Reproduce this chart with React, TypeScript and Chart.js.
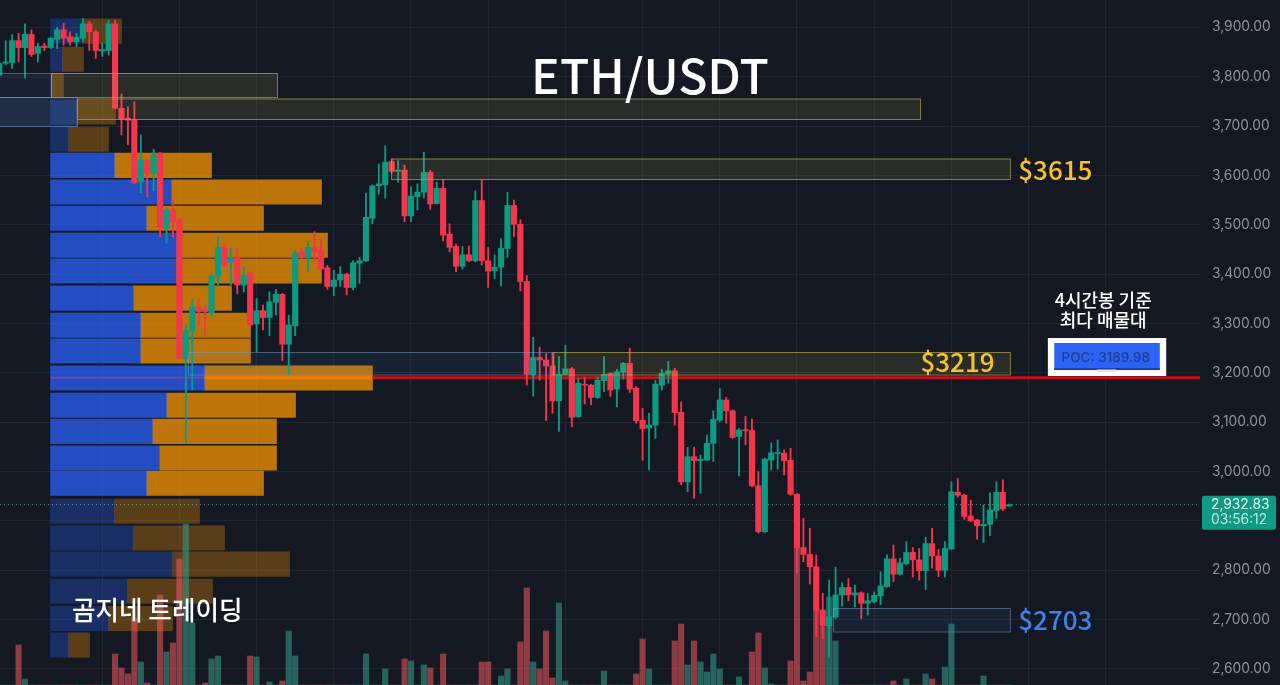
import React, { useEffect, useRef } from 'react';
import { Chart, registerables } from 'chart.js';

Chart.register(...registerables);

const FIRST_BAR = -4;
const LAST_PRICE = 2932.83;
const POC_PRICE = 3189.98;

const yTicks = [3900, 3800, 3700, 3600, 3500, 3400, 3300, 3200, 3100, 3000, 2900, 2800, 2700, 2600];

const opens = [
  3803, 3827, 3829, 3873, 3859, 3886, 3847, 3862, 3859, 3876,
  3895, 3881, 3871, 3878, 3907, 3891, 3852, 3853, 3907, 3736,
  3716, 3712, 3587, 3630, 3603, 3645, 3493, 3529, 3510, 3229,
  3285, 3333, 3329, 3322, 3396, 3456, 3424, 3432, 3378, 3402,
  3299, 3326, 3312, 3343, 3359, 3258, 3295, 3445, 3434, 3454,
  3449, 3413, 3375, 3388, 3400, 3373, 3422, 3427, 3513, 3579,
  3581, 3628, 3608, 3611, 3518, 3557, 3566, 3606, 3543, 3574,
  3481, 3456, 3416, 3439, 3427, 3549, 3427, 3407, 3414, 3452,
  3539, 3501, 3385, 3196, 3231, 3226, 3214, 3143, 3197, 3208,
  3111, 3177, 3175, 3150, 3184, 3199, 3167, 3201, 3219, 3169,
  3104, 3088, 3094, 3175, 3198, 3204, 3120, 2979, 3030, 3022,
  3023, 3057, 3104, 3145, 3123, 3071, 3085, 3083, 2971, 2878,
  3023, 3037, 3037, 3023, 2954, 2846, 2832, 2807, 2719, 2687,
  2705, 2750, 2765, 2750, 2754, 2733, 2736, 2748, 2767, 2823,
  2792, 2813, 2836, 2821, 2799, 2854, 2829, 2800, 2843, 2958,
  2952, 2910, 2902, 2890, 2893, 2921, 2958, 2930,
];
const highs = [
  3830, 3873, 3885, 3888, 3907, 3895, 3868, 3868, 3880, 3900,
  3908, 3891, 3888, 3918, 3912, 3895, 3868, 3915, 3914, 3765,
  3739, 3749, 3682, 3633, 3653, 3646, 3533, 3550, 3513, 3300,
  3349, 3348, 3334, 3402, 3476, 3462, 3452, 3452, 3415, 3405,
  3351, 3337, 3364, 3369, 3361, 3317, 3447, 3452, 3466, 3486,
  3470, 3418, 3408, 3415, 3402, 3427, 3434, 3564, 3581, 3623,
  3660, 3633, 3630, 3621, 3577, 3583, 3647, 3610, 3587, 3592,
  3502, 3461, 3456, 3457, 3569, 3591, 3454, 3439, 3472, 3566,
  3550, 3510, 3397, 3272, 3252, 3239, 3241, 3233, 3256, 3211,
  3189, 3191, 3177, 3192, 3233, 3200, 3207, 3221, 3250, 3172,
  3128, 3118, 3185, 3207, 3223, 3209, 3141, 3049, 3049, 3033,
  3074, 3123, 3168, 3150, 3125, 3087, 3112, 3106, 3000, 3027,
  3058, 3064, 3044, 3047, 2956, 2905, 2885, 2831, 2753, 2780,
  2806, 2775, 2783, 2770, 2756, 2753, 2756, 2797, 2831, 2851,
  2824, 2858, 2846, 2844, 2867, 2885, 2842, 2858, 2979, 2986,
  2954, 2942, 2903, 2932, 2957, 2979, 2983, 2934,
];
const lows = [
  3799, 3824, 3817, 3830, 3797, 3841, 3830, 3853, 3857, 3857,
  3864, 3864, 3861, 3871, 3853, 3837, 3841, 3844, 3735, 3682,
  3662, 3583, 3565, 3557, 3569, 3475, 3463, 3475, 3228, 3057,
  3165, 3297, 3277, 3314, 3378, 3415, 3378, 3360, 3364, 3293,
  3243, 3287, 3275, 3317, 3225, 3196, 3275, 3432, 3405, 3429,
  3408, 3369, 3356, 3375, 3358, 3368, 3381, 3425, 3502, 3562,
  3554, 3604, 3586, 3506, 3506, 3530, 3554, 3531, 3542, 3467,
  3445, 3405, 3410, 3425, 3425, 3418, 3373, 3391, 3376, 3434,
  3476, 3366, 3175, 3153, 3185, 3103, 3118, 3081, 3196, 3091,
  3110, 3137, 3135, 3148, 3162, 3152, 3131, 3187, 3160, 3098,
  3023, 3003, 3067, 3165, 3179, 3094, 2973, 2959, 2946, 2956,
  3023, 3020, 3101, 3098, 3067, 2991, 3054, 2969, 2875, 2876,
  3003, 3005, 2993, 2952, 2794, 2817, 2772, 2665, 2662, 2625,
  2702, 2727, 2738, 2726, 2702, 2709, 2734, 2730, 2765, 2777,
  2790, 2811, 2786, 2780, 2761, 2804, 2787, 2786, 2842, 2948,
  2903, 2898, 2863, 2856, 2870, 2905, 2921, 2929,
];
const closes = [
  3827, 3830, 3873, 3859, 3886, 3845, 3861, 3859, 3878, 3895,
  3878, 3871, 3880, 3907, 3891, 3853, 3855, 3907, 3736, 3714,
  3712, 3585, 3631, 3604, 3641, 3494, 3529, 3506, 3230, 3285,
  3334, 3324, 3324, 3396, 3454, 3418, 3432, 3378, 3398, 3297,
  3326, 3312, 3344, 3359, 3258, 3297, 3443, 3435, 3454, 3445,
  3410, 3375, 3388, 3400, 3373, 3423, 3427, 3515, 3579, 3583,
  3627, 3608, 3611, 3518, 3558, 3566, 3606, 3542, 3574, 3479,
  3454, 3416, 3439, 3427, 3549, 3427, 3406, 3414, 3452, 3539,
  3501, 3385, 3197, 3231, 3226, 3214, 3143, 3197, 3208, 3110,
  3179, 3175, 3150, 3185, 3197, 3165, 3202, 3219, 3167, 3103,
  3087, 3094, 3177, 3199, 3204, 3119, 2979, 3030, 3022, 3025,
  3057, 3106, 3145, 3123, 3069, 3084, 3083, 2971, 2878, 3025,
  3038, 3039, 3022, 2954, 2846, 2832, 2807, 2719, 2687, 2706,
  2750, 2765, 2750, 2754, 2733, 2738, 2749, 2768, 2823, 2792,
  2815, 2836, 2821, 2799, 2854, 2829, 2800, 2844, 2959, 2952,
  2909, 2900, 2890, 2893, 2922, 2958, 2924, 2932.83,
];
const volumes = [
  0, 0, 0, 40, 6, 0, 0, 0, 0, 0,
  0, 0, 0, 0, 0, 0, 0, 0, 31, 17,
  11, 67, 23, 2, 0, 90, 33, 42, 126, 161,
  62, 0, 2, 26, 29, 0, 0, 0, 0, 29,
  28, 0, 3, 0, 4, 54, 29, 0, 0, 0,
  0, 0, 0, 0, 0, 0, 0, 31, 0, 0,
  16, 0, 0, 26, 24, 0, 20, 17, 0, 31,
  0, 0, 0, 0, 0, 23, 23, 0, 9, 16,
  0, 43, 97, 23, 16, 54, 7, 82, 4, 0,
  0, 0, 0, 0, 14, 0, 0, 0, 0, 11,
  46, 16, 0, 0, 0, 44, 61, 20, 44, 23,
  13, 31, 16, 0, 0, 8, 0, 33, 52, 17,
  1, 0, 0, 24, 145, 4, 13, 75, 58, 88,
  44, 0, 0, 0, 0, 0, 0, 0, 0, 4,
  0, 6, 0, 0, 11, 6, 0, 18, 61, 0,
  0, 0, 0, 9, 0, 0, 0, 0,
];

// volume profile rows, top of each row in price
const profilePrices = [
  3917, 3860, 3807, 3753, 3698, 3645, 3591, 3538, 3483, 3431, 3376, 3321,
  3269, 3214, 3159, 3106, 3052, 3001, 2944, 2890, 2837, 2782, 2727, 2673,
];
const profileBuy = [
  32, 12, 1, 26, 18, 64, 121, 96, 129, 126, 83, 90,
  90, 154, 116, 102, 109, 96, 64, 83, 122, 77, 58, 18,
];
const profileSell = [
  39, 21, 12, 39, 40, 97, 150, 117, 148, 145, 98, 110,
  110, 168, 129, 124, 117, 117, 85, 91, 117, 85, 64, 21,
];
const profileBright = [
  false, false, false, false, false, true, true, true, true, true, true, true,
  true, true, true, true, true, true, false, false, false, false, false, false,
];

const zoneStart = [4.04, -4.2, 8.08, -4.2, 56.9, 82.1, 25.3, 125.6];
const zoneEnd = [39.17, 4.04, 139.13, 8.08, 153.1, 153.1, 82.1, 153.1];
const zoneHigh = [3807.5, 3807.5, 3755.8, 3758.8, 3634.2, 3242.1, 3242.1, 2723.4];
const zoneLow = [3758.8, 3758.8, 3714.3, 3700, 3592.7, 3196.5, 3196.5, 2675.8];
const zoneYellow = [true, false, true, false, true, true, false, false];
const zoneStrong = [false, false, false, true, false, false, false, false];

const GREEN = '#0b9b83';
const RED = '#f4364c';
const GREEN_VOL = 'rgba(55, 160, 140, 0.55)';
const RED_VOL = 'rgba(242, 90, 95, 0.55)';
const FONT_KR = '"Noto Sans CJK KR", "Noto Sans", sans-serif';

const bars = opens.map((_, i) => i + FIRST_BAR);
const candleColors = opens.map((o, i) => (closes[i] >= o ? GREEN : RED));
const volumeColors = opens.map((o, i) => (closes[i] >= o ? GREEN_VOL : RED_VOL));
const rowMid = (p: number) => p - 24.7;

const chartLabels = [
  { text: 'ETH/USDT', x: 97.15, y: 3801, font: `500 48px ${FONT_KR}`, color: '#ffffff', align: 'center' },
  { text: '$3615', x: 154.4, y: 3611, font: `500 26px ${FONT_KR}`, color: '#f5c326', align: 'left' },
  { text: '$3219', x: 139.2, y: 3222, font: `500 26px ${FONT_KR}`, color: '#f5c326', align: 'left' },
  { text: '$2703', x: 154.4, y: 2699, font: `500 26px ${FONT_KR}`, color: '#3f80ea', align: 'left' },
  { text: '곰지네 트레이딩', x: 7.3, y: 2719, font: `500 25.6px ${FONT_KR}`, color: '#ffffff', align: 'left' },
  { text: '4시간봉 기준', x: 167.6, y: 3347, font: `500 18px ${FONT_KR}`, color: '#ffffff', align: 'center' },
  { text: '최다 매물대', x: 167.6, y: 3307, font: `500 18px ${FONT_KR}`, color: '#ffffff', align: 'center' },
];

const overlayPlugin = {
  id: 'overlay',
  afterDatasetsDraw(chart: any) {
    const { ctx } = chart;
    const xs = chart.scales.x;
    const ys = chart.scales.y;
    const box = (x0: number, x1: number, hi: number, lo: number, color: string) => {
      ctx.fillStyle = color;
      const left = xs.getPixelForValue(x0);
      const top = ys.getPixelForValue(hi);
      ctx.fillRect(left, top, xs.getPixelForValue(x1) - left, ys.getPixelForValue(lo) - top);
    };

    // zones
    zoneStart.forEach((start, i) => {
      const x0 = xs.getPixelForValue(start);
      const x1 = xs.getPixelForValue(zoneEnd[i]);
      const y0 = ys.getPixelForValue(zoneHigh[i]);
      const y1 = ys.getPixelForValue(zoneLow[i]);
      if (zoneYellow[i]) {
        ctx.fillStyle = 'rgba(200, 190, 90, 0.12)';
        ctx.strokeStyle = 'rgba(175, 170, 70, 0.7)';
      } else {
        ctx.fillStyle = zoneStrong[i] ? 'rgba(80, 130, 200, 0.2)' : 'rgba(80, 130, 200, 0.1)';
        ctx.strokeStyle = zoneStrong[i] ? 'rgba(110, 160, 225, 0.6)' : 'rgba(130, 170, 215, 0.45)';
      }
      ctx.lineWidth = 1;
      ctx.fillRect(x0, y0, x1 - x0, y1 - y0);
      ctx.strokeRect(x0 + 0.5, y0 + 0.5, x1 - x0, y1 - y0);
    });

    // POC box
    box(159, 177.4, 3270.5, 3193.5, '#ffffff');
    box(160, 176.4, 3260.4, 3205.6, '#2b63f6');
    box(160, 176.4, 3209.6, 3205.6, '#1d3f9e');
    box(166.6, 169.6, 3206.7, 3201.7, '#dfe6f5');
    ctx.font = '500 13.5px Inter, sans-serif';
    ctx.fillStyle = '#1f3f88';
    ctx.textAlign = 'center';
    ctx.textBaseline = 'middle';
    ctx.fillText(`POC: ${POC_PRICE}`, xs.getPixelForValue(168), ys.getPixelForValue(3230));

    chartLabels.forEach((l) => {
      ctx.font = l.font;
      ctx.fillStyle = l.color;
      ctx.textAlign = l.align;
      ctx.textBaseline = 'middle';
      ctx.fillText(l.text, xs.getPixelForValue(l.x), ys.getPixelForValue(l.y));
    });

    // last price tag on the axis
    const right = chart.chartArea.right;
    const tagY = ys.getPixelForValue(LAST_PRICE);
    ctx.fillStyle = '#0f9b82';
    ctx.beginPath();
    ctx.roundRect(right + 2, tagY - 9, 74, 34, 2);
    ctx.fill();
    ctx.font = '13.8px Inter, sans-serif';
    ctx.textAlign = 'left';
    ctx.fillStyle = '#e6f5f1';
    ctx.fillText(LAST_PRICE.toLocaleString('en-US', { minimumFractionDigits: 2 }), right + 11, tagY);
    ctx.fillStyle = '#c3e6de';
    ctx.fillText('03:56:12', right + 11, tagY + 15);
  },
};

const App: React.FC = () => {
  const canvasRef = useRef<HTMLCanvasElement>(null);

  useEffect(() => {
    if (!canvasRef.current) return;
    const gridColor = '#22252f';

    const chart = new Chart(canvasRef.current, {
      type: 'bar',
      data: {
        datasets: [
          // candle bodies
          {
            data: bars.map((x, i) => ({ x, y: [opens[i], closes[i]] })),
            backgroundColor: candleColors,
            barThickness: 5.5,
            grouped: false,
            order: 1,
          },
          // wicks
          {
            data: bars.map((x, i) => ({ x, y: [lows[i], highs[i]] })),
            backgroundColor: candleColors,
            barThickness: 1.2,
            grouped: false,
            order: 2,
          },
          // last price
          {
            type: 'line',
            data: [{ x: -3.9, y: LAST_PRICE }, { x: 182.7, y: LAST_PRICE }],
            borderColor: 'rgba(150, 205, 190, 0.75)',
            borderWidth: 1,
            borderDash: [1, 3],
            pointRadius: 0,
            order: 3,
          },
          // POC line over the profile and out to the axis
          {
            type: 'line',
            data: [{ x: 54, y: POC_PRICE }, { x: 182.7, y: POC_PRICE }],
            borderColor: '#c41019',
            borderWidth: 3,
            pointRadius: 0,
            order: 4,
          },
          {
            type: 'line',
            data: [{ x: 27.9, y: POC_PRICE }, { x: 54, y: POC_PRICE }],
            borderColor: '#f47a00',
            borderWidth: 3,
            pointRadius: 0,
            order: 4,
          },
          {
            type: 'line',
            data: [{ x: 3.97, y: POC_PRICE }, { x: 27.9, y: POC_PRICE }],
            borderColor: '#6a4bb4',
            borderWidth: 2,
            pointRadius: 0,
            order: 4,
          },
          // volume
          {
            data: bars.map((x, i) => ({ x, y: volumes[i] })),
            yAxisID: 'yVol',
            backgroundColor: volumeColors,
            barThickness: 5.5,
            grouped: false,
            order: 5,
          },
          // volume profile
          {
            indexAxis: 'y',
            xAxisID: 'xVp',
            data: profilePrices.map((p, i) => ({ x: [0, profileBuy[i]], y: rowMid(p) })),
            backgroundColor: profileBright.map((b) => (b ? 'rgba(41, 98, 255, 0.72)' : 'rgba(41, 98, 255, 0.3)')),
            barThickness: 24.4,
            grouped: false,
            order: 6,
          },
          {
            indexAxis: 'y',
            xAxisID: 'xVp',
            data: profilePrices.map((p, i) => ({ x: [profileBuy[i], profileBuy[i] + profileSell[i]], y: rowMid(p) })),
            backgroundColor: profileBright.map((b) => (b ? 'rgba(255, 152, 0, 0.72)' : 'rgba(255, 152, 0, 0.3)')),
            barThickness: 24.4,
            grouped: false,
            order: 6,
          },
        ] as any,
      },
      options: {
        responsive: false,
        animation: false,
        events: [],
        layout: { padding: 0, autoPadding: false },
        plugins: {
          legend: { display: false },
          tooltip: { enabled: false },
        },
        scales: {
          x: {
            type: 'linear',
            position: 'bottom',
            min: -3.886,
            max: 182.65,
            offset: false,
            grid: { color: gridColor, offset: false, drawTicks: false },
            border: { display: false },
            ticks: { display: false, stepSize: 12 },
            afterBuildTicks: (scale: any) => {
              scale.ticks = scale.ticks.filter((t: any) => t.value % 12 === 0);
            },
          },
          xVp: {
            type: 'linear',
            display: false,
            min: -50.5,
            max: 1149.5,
            offset: false,
            grid: { offset: false },
          },
          y: {
            type: 'linear',
            position: 'right',
            min: 2567.4,
            max: 3955.4,
            offset: false,
            grid: { color: gridColor, offset: false, drawTicks: false },
            border: { display: false },
            ticks: {
              stepSize: 100,
              padding: 12,
              color: '#8f929c',
              autoSkip: false,
              font: { family: 'Inter, sans-serif', size: 13.8 },
              callback: (v: any) => Number(v).toLocaleString('en-US', { minimumFractionDigits: 2 }),
            },
            afterBuildTicks: (scale: any) => {
              scale.ticks = yTicks.map((value) => ({ value }));
            },
            afterFit: (scale: any) => {
              // label overflow would otherwise shrink the plot top and bottom
              scale.width = 80;
              scale.paddingTop = 0;
              scale.paddingBottom = 0;
            },
          },
          yVol: {
            type: 'linear',
            display: false,
            min: 0,
            max: 685,
            offset: false,
            grid: { offset: false },
          },
        },
      } as any,
      plugins: [overlayPlugin],
    });

    return () => chart.destroy();
  }, []);

  return (
    <div style={{ position: 'fixed', inset: 0, background: '#141823' }}>
      <canvas ref={canvasRef} width={1280} height={685} style={{ display: 'block' }}></canvas>
    </div>
  );
};

export default App;
